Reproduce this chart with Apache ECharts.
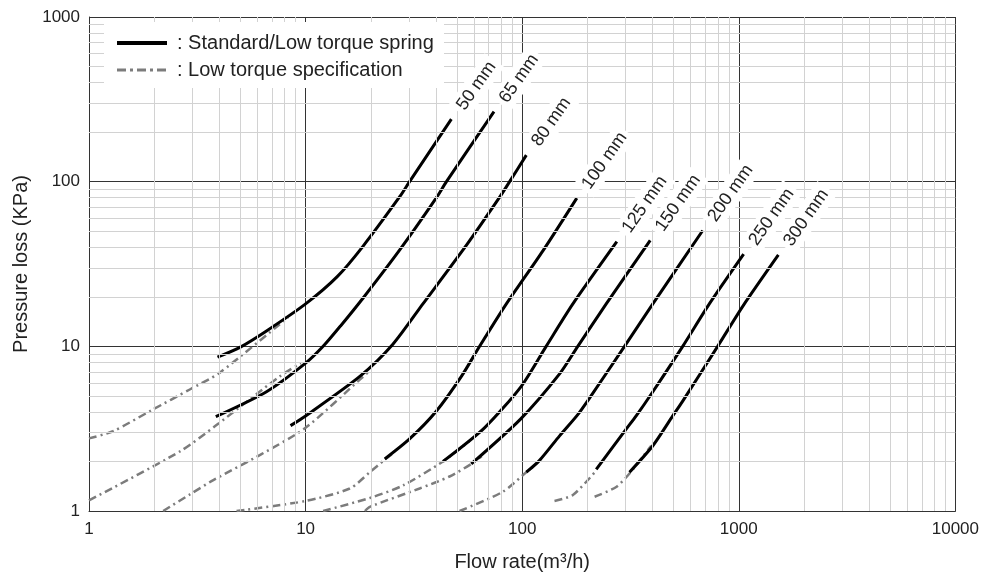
<!DOCTYPE html>
<html><head><meta charset="utf-8">
<script src="https://cdn.jsdelivr.net/npm/echarts@6/dist/echarts.min.js"></script>
<style>html,body{margin:0;padding:0;background:#fff}#c{width:982px;height:577px}</style>
</head><body><div id="c"></div>
<script>
// ---- data (flow rate m3/h, pressure loss kPa) ----
const sizeLabels = ['50 mm','65 mm','80 mm','100 mm','125 mm','150 mm','200 mm','250 mm','300 mm'];
const xRange = [1, 10000];
const yRange = [1, 1000];

const std50  = [[3.92,8.6],[5,9.9],[6.6,12.4],[10,18.1],[14,26.5],[18.4,40.5],[27.2,81],[30.2,100],[47.1,240]];
const std65  = [[3.85,3.74],[6.6,5.3],[10,7.9],[12.05,10],[14.5,13.3],[18.4,19.6],[27.2,38.5],[40.2,80],[44.7,100],[74.1,266]];
const std80  = [[8.52,3.3],[10,3.78],[17.8,6.57],[25.3,10.3],[34.8,18.1],[55.2,41],[78.7,80.5],[87.5,100],[104.5,145]];
const std100 = [[23.2,2.07],[30.2,2.74],[40.2,4.05],[52.4,6.57],[63.6,10],[84.5,18.1],[124.6,38],[178.7,79.5]];
const std125 = [[43.1,2.0],[67,3.2],[99,5.72],[129,10],[171.4,18.1],[273.5,43.2]];
const std150 = [[58.2,1.93],[98,3.6],[148.8,6.8],[180.6,10],[244.3,18.1],[390,44]];
const std200 = [[104.5,1.72],[120.3,2.03],[148.8,2.86],[180.6,3.85],[204.6,4.85],[296.8,10],[401,18.1],[681.6,50.5]];
const std250 = [[219.7,1.79],[302,3.14],[336,3.78],[401,5.3],[551,10],[731,18.1],[1053,36.3]];
const std300 = [[313,1.72],[401,2.49],[495.6,3.78],[551,4.65],[799,10],[1043,17.5],[1523,35.9]];

const low50  = [[1,2.76],[1.29,3.05],[1.95,4.1],[2.92,5.47],[4.0,6.9],[8.3,15.0]];
const low65  = [[1,1.16],[2.63,2.3],[3.85,3.3],[7.6,6.57],[9.5,7.9]];
const low80  = [[2.2,1.0],[2.92,1.26],[3.75,1.54],[6.2,2.2],[10,3.2],[17.8,6.28],[20,7.2]];
const low100 = [[4.8,1.0],[10,1.15],[16,1.37],[19.8,1.72],[23.2,2.05],[26,2.3]];
const low125 = [[12.05,1.0],[19.8,1.2],[28.2,1.43],[43.1,2.0],[57,2.65]];
const low150 = [[18.8,1.0],[19.8,1.06],[33.6,1.37],[46.2,1.62],[58.2,1.93],[65,2.15]];
const low200 = [[51.4,1.0],[81.5,1.31],[104.5,1.72],[112,1.85]];
const low250 = [[141,1.15],[171.4,1.25],[219.7,1.76]];
const low300 = [[216,1.22],[271.7,1.40],[313,1.69],[394,2.49]];

const stdCurves = [std50,std65,std80,std100,std125,std150,std200,std250,std300];
const lowCurves = [low50,low65,low80,low100,low125,low150,low200,low250,low300];

const STD = 'Standard/Low torque spring';
const LOW = 'Low torque specification';
const FONT = 'Liberation Sans, Arial, sans-serif';
const BLACK = '#000';
const GREY = '#7c7c7c';
const LOW_DASH = [8, 4, 2, 4];

// minor log grid values (2..9 per decade)
const minorX = [], minorY = [];
for (let d = xRange[0]; d < xRange[1]; d *= 10) for (let m = 2; m <= 9; m++) minorX.push(m * d);
for (let d = yRange[0]; d < yRange[1]; d *= 10) for (let m = 2; m <= 9; m++) minorY.push(m * d);

const series = [{
  type: 'line', data: [], silent: true, z: 1,
  markLine: {
    silent: true, symbol: ['none','none'], label: {show: false}, animation: false,
    lineStyle: {color: '#d2d2d2', width: 1, type: 'solid'},
    emphasis: {disabled: true},
    data: minorX.map(v => ({xAxis: v})).concat(minorY.map(v => ({yAxis: v})))
  }
}];

lowCurves.forEach(d => series.push({
  name: LOW, type: 'line', data: d, symbol: 'none', smooth: 0.25, z: 3,
  color: GREY,
  lineStyle: {color: GREY, width: 2.5, type: LOW_DASH}
}));

stdCurves.forEach((d, i) => series.push({
  name: STD, type: 'line', data: d, symbol: 'none', smooth: 0.25, z: 4,
  color: BLACK,
  lineStyle: {color: BLACK, width: 3},
  markPoint: {
    symbol: 'circle', symbolSize: 1, itemStyle: {color: 'rgba(0,0,0,0)'}, silent: true, animation: false,
    data: [{coord: d[d.length - 1]}],
    label: {
      show: true, formatter: sizeLabels[i], position: 'inside', rotate: 55,
      align: 'left', verticalAlign: 'middle', offset: [10, 1.5],
      backgroundColor: '#fff', padding: [3, 4], color: '#222', fontSize: 18, fontFamily: FONT
    }
  }
}));

// legend box (white panel with line samples and captions)
const legendItems = [
  {text: ': ' + STD, stroke: BLACK, width: 4, dash: null},
  {text: ': ' + LOW, stroke: GREY, width: 3, dash: [9, 4, 3, 4]}
];
const legendGraphic = {
  type: 'group', left: 104, top: 22, z: 100, silent: true,
  children: [{type: 'rect', shape: {x: 0, y: 0, width: 340, height: 66}, style: {fill: '#fff'}, z: 100}]
    .concat(legendItems.flatMap((it, k) => [
      {type: 'line', z: 101, shape: {x1: 13, y1: 21 + 27 * k, x2: 63, y2: 21 + 27 * k},
       style: {stroke: it.stroke, lineWidth: it.width, lineDash: it.dash}},
      {type: 'text', z: 101, x: 73, y: 21 + 27 * k,
       style: {text: it.text, fill: '#222', font: '20px ' + FONT, verticalAlign: 'middle', align: 'left'}}
    ]))
};

const chart = echarts.init(document.getElementById('c'), null, {renderer: 'canvas'});
chart.setOption({
  animation: false,
  backgroundColor: '#fff',
  textStyle: {fontFamily: FONT},
  grid: {left: 89, right: 26, top: 17, bottom: 61},
  graphic: [legendGraphic],
  xAxis: {
    type: 'log', logBase: 10, min: xRange[0], max: xRange[1],
    name: 'Flow rate(m³/h)', nameLocation: 'middle', nameGap: 41,
    nameTextStyle: {fontSize: 20, color: '#222', fontFamily: FONT},
    axisLine: {lineStyle: {color: '#333', width: 1}},
    axisTick: {show: false},
    axisLabel: {fontSize: 17, color: '#222', margin: 10, fontFamily: FONT, formatter: v => String(v)},
    splitLine: {show: true, lineStyle: {color: '#333', width: 1}}
  },
  yAxis: {
    type: 'log', logBase: 10, min: yRange[0], max: yRange[1],
    name: 'Pressure loss (KPa)', nameLocation: 'middle', nameGap: 44,
    nameTextStyle: {fontSize: 20, color: '#222', fontFamily: FONT},
    axisLine: {show: true, lineStyle: {color: '#333', width: 1}},
    axisTick: {show: false},
    axisLabel: {fontSize: 17, color: '#222', margin: 9, fontFamily: FONT, formatter: v => String(v)},
    splitLine: {show: true, lineStyle: {color: '#333', width: 1}}
  },
  series: series
});
</script></body></html>
